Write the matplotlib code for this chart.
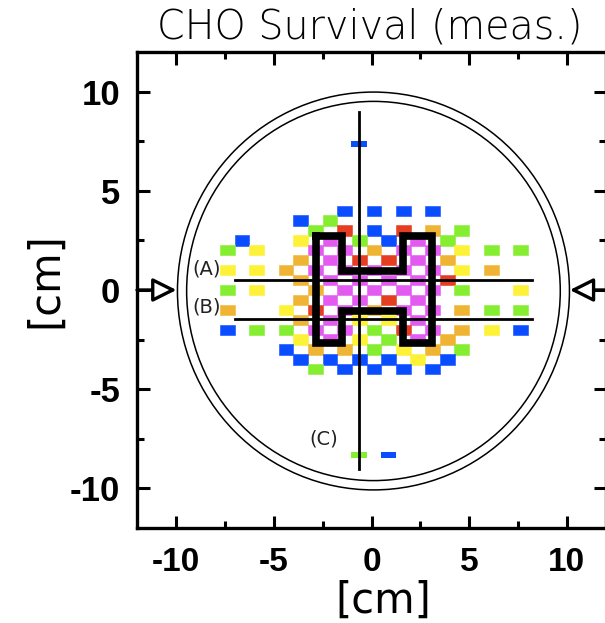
import numpy as np
import matplotlib
matplotlib.use("Agg")
import matplotlib.pyplot as plt
from matplotlib.patches import Circle
from matplotlib.ticker import MultipleLocator

# Measurement cells: staggered grid, 0.75 cm wide x 0.5 cm high
COL_X = [-7.375, -6.625, -5.875, -5.125, -4.375, -3.625, -2.875, -2.125, -1.375, -0.625,
         0.125, 0.875, 1.625, 2.375, 3.125, 3.875, 4.625, 5.375, 6.125, 6.875, 7.625]
ROW_Y = [4.0, 3.5, 3.0, 2.5, 2.0, 1.5, 1.0, 0.5, 0.0, -0.5, -1.0,
         -1.5, -2.0, -2.5, -3.0, -3.5, -4.0]
# B blue, G green, Y yellow, O orange, R red, M magenta, . empty
ROWS = [
    "........B.B.B.B......",
    ".....B.G.............",
    "......G.R.B.R.O.G....",
    ".B...Y.M.G.B.M.G.....",
    "G.Y...M.M.O.M.M.Y.G.G",
    ".....O.M.R.R.M.O.....",
    "Y.Y.O.M.M.M.M.M.Y.O..",
    ".....O.M.M.M.M.R.....",
    "G.Y...O.M.M.M.M.G...Y",
    ".....O.M.M.R.M.......",
    "O...Y.R.M.O.M.M.O.G.G",
    ".....O.M.Y.Y.M.......",
    "B.G.G.M.M.G.R.M.O.Y.B",
    ".....Y.M.Y.G.M.O.....",
    "....B.O.O.G.Y.O.G....",
    ".....B.B.B.B.Y.B.....",
    "......G.B.B.B.B......",
]
COLORS = {"B": "#0a4cff", "G": "#86ee30", "Y": "#fdf237", "O": "#f0b434",
          "R": "#e53d22", "M": "#e35af0"}

# isolated thin cells near the vertical scan line
EXTRA_X = [-0.625, -0.625, 0.875]
EXTRA_Y = [7.37, -8.33, -8.33]
EXTRA_C = ["B", "G", "B"]

# outline of the H-shaped target
H_X = [-2.85, -1.5, -1.5, 1.6, 1.6, 3.1, 3.1, 1.6, 1.6, -1.5, -1.5, -2.85, -2.85]
H_Y = [2.7, 2.7, 0.95, 0.95, 2.7, 2.7, -2.65, -2.65, -1.05, -1.05, -2.65, -2.65, 2.7]

# scan lines (A), (B), (C)
SCAN_X = [-7.0, 8.2]
SCAN_A_Y = 0.5
SCAN_B_Y = -1.45
SCAN_C_X = -0.65
SCAN_C_Y = [-9.0, 9.0]

PHANTOM_CENTER = (0.1, -0.05)
PHANTOM_R = [10.03, 9.56]

plt.rcParams["axes.unicode_minus"] = False

fig = plt.figure(figsize=(6.05, 6.23), dpi=100)
ax = fig.add_axes([137 / 605, 95 / 623, 469 / 605, 476 / 623])

cx, cy, cc = [], [], []
for y, row in zip(ROW_Y, ROWS):
    for x, code in zip(COL_X, row):
        if code != ".":
            cx.append(x)
            cy.append(y)
            cc.append(COLORS[code])
cy = np.array(cy)
ax.bar(cx, 0.52, width=0.76, bottom=cy - 0.26, color=cc, edgecolor=cc, linewidth=0.4, zorder=1)
ey = np.array(EXTRA_Y)
ax.bar(EXTRA_X, 0.28, width=0.8, bottom=ey - 0.14, color=[COLORS[c] for c in EXTRA_C],
       linewidth=0, zorder=1)

# scan lines
ax.plot(SCAN_X, [SCAN_A_Y, SCAN_A_Y], color="black", lw=2.0, zorder=3)
ax.plot(SCAN_X, [SCAN_B_Y, SCAN_B_Y], color="black", lw=2.0, zorder=3)
ax.plot([SCAN_C_X, SCAN_C_X], SCAN_C_Y, color="black", lw=2.0, zorder=3)

# H outline
ax.plot(H_X, H_Y, color="black", lw=5.5, solid_joinstyle="miter", zorder=4)

# phantom circles
for r in PHANTOM_R:
    ax.add_patch(Circle(PHANTOM_CENTER, r, fill=False, ec="black", lw=1.1, zorder=2))

# beam arrows
arrow = dict(arrowstyle="-|>,head_length=0.72,head_width=0.36", mutation_scale=20,
             fc="white", ec="black", lw=2.4, shrinkA=0, shrinkB=0)
ax.annotate("", xy=(-9.98, 0), xytext=(-12, 0), arrowprops=arrow, annotation_clip=False, zorder=5)
ax.annotate("", xy=(10.15, 0), xytext=(12.5, 0), arrowprops=arrow, annotation_clip=False, zorder=5)

lab = dict(fontsize=14, color="#222222", ha="center", va="center")
ax.text(-8.45, 1.05, "(A)", **lab)
ax.text(-8.45, -0.85, "(B)", **lab)
ax.text(-2.45, -7.5, "(C)", **lab)

ax.set_xlim(-12, 12)
ax.set_ylim(-12, 12)
ax.xaxis.set_major_locator(MultipleLocator(5))
ax.xaxis.set_minor_locator(MultipleLocator(2.5))
ax.yaxis.set_major_locator(MultipleLocator(5))
ax.yaxis.set_minor_locator(MultipleLocator(2.5))
ax.tick_params(which="both", direction="in", top=True, right=True, width=2.2)
ax.tick_params(which="major", length=9)
ax.tick_params(which="minor", length=5)
ax.tick_params(axis="x", which="major", pad=14)
ax.tick_params(axis="y", which="major", pad=12)
for lbl in ax.get_xticklabels():
    lbl.set_fontfamily("Liberation Sans")
    lbl.set_fontweight("bold")
    lbl.set_fontsize(24)
for lbl in ax.get_yticklabels():
    lbl.set_fontfamily("Liberation Sans")
    lbl.set_fontweight("bold")
    lbl.set_fontsize(25)
for s in ax.spines.values():
    s.set_linewidth(2.4)

ax.set_xlabel("[cm]", fontsize=30, va="center")
ax.xaxis.set_label_coords(0.5245, -0.153)
ax.set_ylabel("[cm]", fontsize=30, va="center")
ax.yaxis.set_label_coords(-0.196, 0.521)

fig.text(370 / 605, 1 - 27 / 623, "CHO Survival (meas.)", fontsize=28.5,
         ha="center", va="center", fontweight="light")

fig.savefig("out.png", dpi=100)
